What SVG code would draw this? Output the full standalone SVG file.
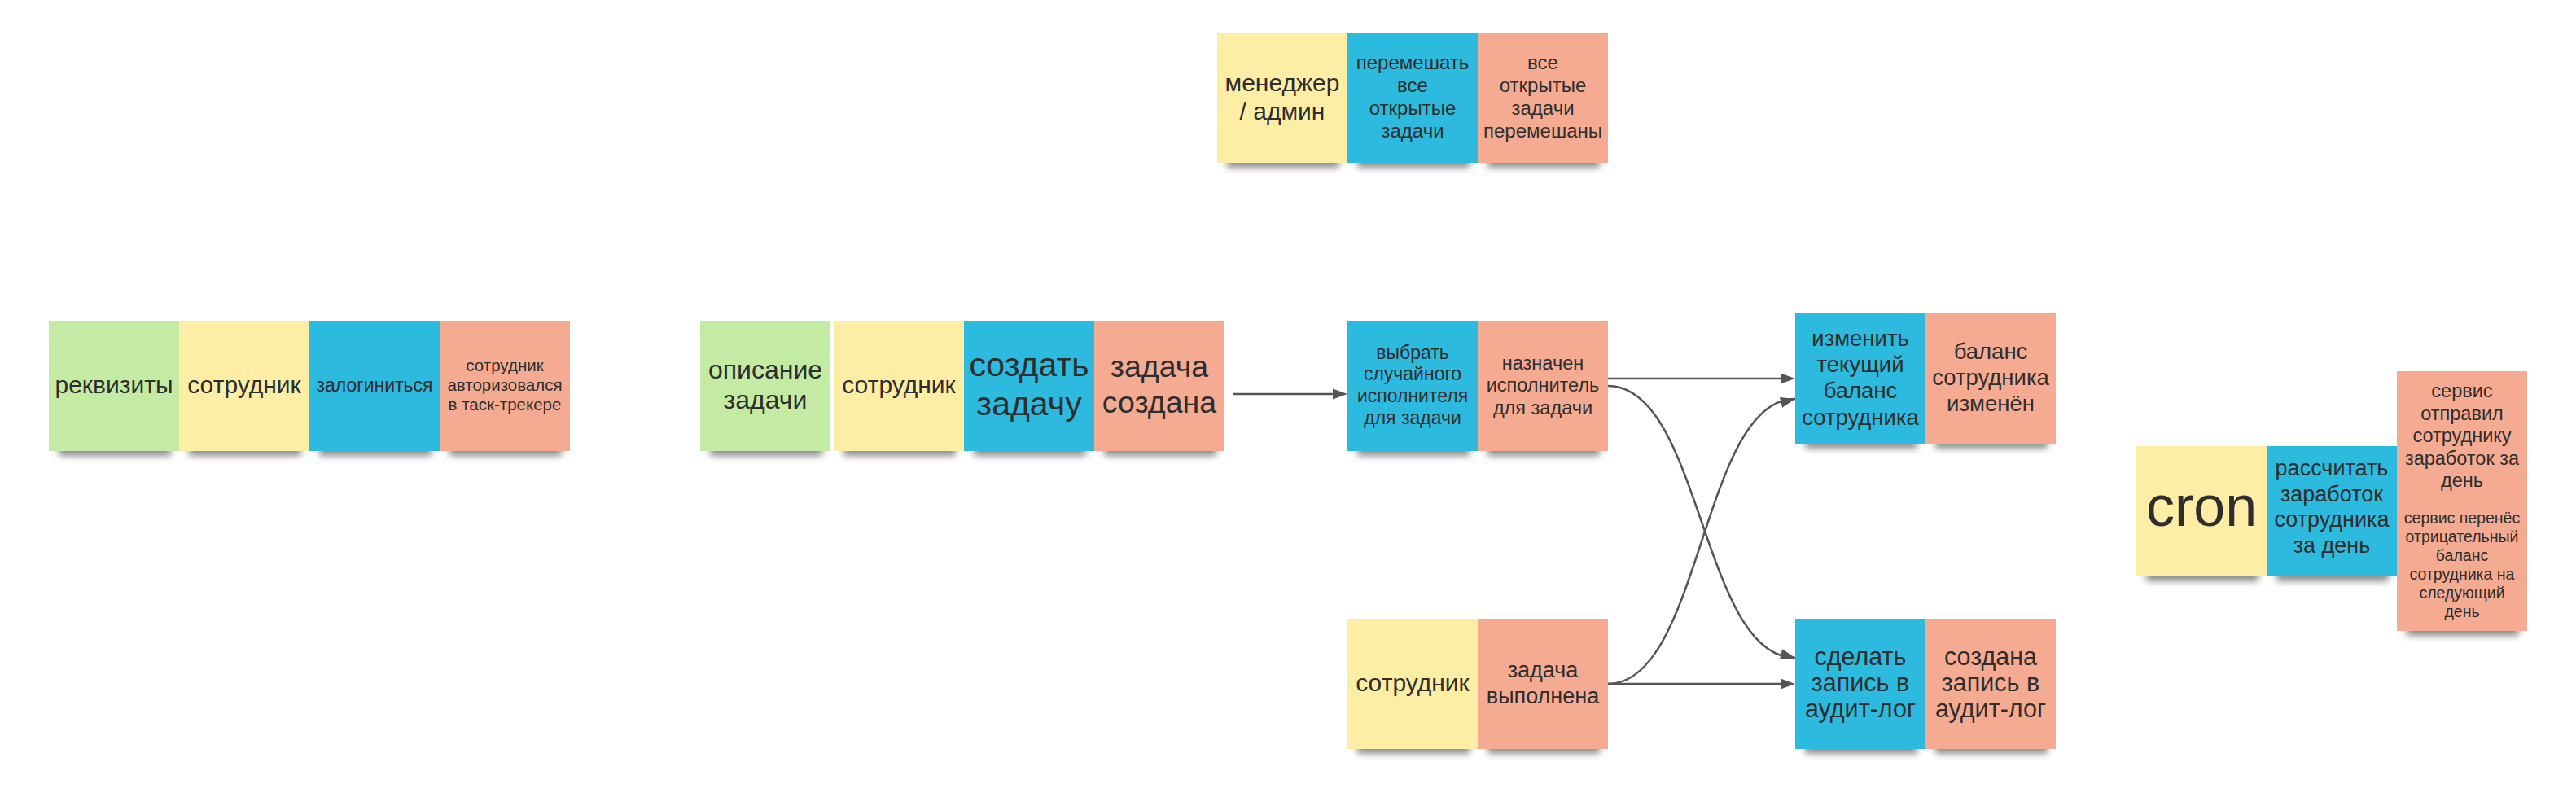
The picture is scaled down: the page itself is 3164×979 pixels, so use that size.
<svg xmlns="http://www.w3.org/2000/svg" xmlns:xlink="http://www.w3.org/1999/xlink" width="3164" height="979" viewBox="0 0 3164 979">
<defs>
<filter id="bl" x="-20%" y="-100%" width="140%" height="300%"><feGaussianBlur stdDeviation="4"/></filter>
<path id="ah" d="M0,0 L-18,-6.5 L-18,6.5 Z" fill="#555"/>
<style>
.t{font-family:"Liberation Sans",Arial,sans-serif;fill:#2e2e2e;text-anchor:middle}
.g{fill:#c4eba4}.y{fill:#fdeda5}.b{fill:#2cbade}.r{fill:#f5aa92}
.sh{fill:#000;opacity:.45;filter:url(#bl)}
.c{fill:none;stroke:#555;stroke-width:2.5}
</style>
</defs>
<rect width="3164" height="979" fill="#fff"/>

<g id="n-manager"><rect class="sh" x="1507" y="188" width="138" height="18"/><rect class="y" x="1495" y="40" width="160" height="160"/>
<text class="t" font-size="30"><tspan x="1575" y="111.5">менеджер</tspan><tspan x="1575" y="146.6">/ админ</tspan></text></g>
<g id="n-shuffle"><rect class="sh" x="1667" y="188" width="138" height="18"/><rect class="b" x="1655" y="40" width="160" height="160"/>
<text class="t" font-size="24"><tspan x="1735" y="85.1">перемешать</tspan><tspan x="1735" y="113.2">все</tspan><tspan x="1735" y="141.3">открытые</tspan><tspan x="1735" y="169.4">задачи</tspan></text></g>
<g id="n-shuffled"><rect class="sh" x="1827" y="188" width="138" height="18"/><rect class="r" x="1815" y="40" width="160" height="160"/>
<text class="t" font-size="24"><tspan x="1895" y="85.1">все</tspan><tspan x="1895" y="113.2">открытые</tspan><tspan x="1895" y="141.3">задачи</tspan><tspan x="1895" y="169.4">перемешаны</tspan></text></g>

<g id="n-req1"><rect class="sh" x="72" y="542" width="138" height="18"/><rect class="g" x="60" y="394" width="160" height="160"/>
<text class="t" font-size="30" x="140" y="483">реквизиты</text></g>
<g id="n-emp1"><rect class="sh" x="232" y="542" width="138" height="18"/><rect class="y" x="220" y="394" width="160" height="160"/>
<text class="t" font-size="30" x="300" y="483">сотрудник</text></g>
<g id="n-login"><rect class="sh" x="392" y="542" width="138" height="18"/><rect class="b" x="380" y="394" width="160" height="160"/>
<text class="t" font-size="23" x="460" y="481">залогиниться</text></g>
<g id="n-authed"><rect class="sh" x="552" y="542" width="138" height="18"/><rect class="r" x="540" y="394" width="160" height="160"/>
<text class="t" font-size="20.5"><tspan x="620" y="456.2">сотрудник</tspan><tspan x="620" y="480.2">авторизовался</tspan><tspan x="620" y="504.2">в таск-трекере</tspan></text></g>

<g id="n-desc"><rect class="sh" x="872" y="542" width="138" height="18"/><rect class="g" x="860" y="394" width="160" height="160"/>
<text class="t" font-size="32"><tspan x="940" y="464.9">описание</tspan><tspan x="940" y="502.3">задачи</tspan></text></g>
<g id="n-emp2"><rect class="sh" x="1036" y="542" width="138" height="18"/><rect class="y" x="1024" y="394" width="160" height="160"/>
<text class="t" font-size="30" x="1104" y="483">сотрудник</text></g>
<g id="n-create"><rect class="sh" x="1196" y="542" width="138" height="18"/><rect class="b" x="1184" y="394" width="160" height="160"/>
<text class="t" font-size="41"><tspan x="1264" y="462.3">создать</tspan><tspan x="1264" y="510.3">задачу</tspan></text></g>
<g id="n-created"><rect class="sh" x="1356" y="542" width="138" height="18"/><rect class="r" x="1344" y="394" width="160" height="160"/>
<text class="t" font-size="37.5"><tspan x="1424" y="463.4">задача</tspan><tspan x="1424" y="507.3">создана</tspan></text></g>

<g id="n-pick"><rect class="sh" x="1667" y="542" width="138" height="18"/><rect class="b" x="1655" y="394" width="160" height="160"/>
<text class="t" font-size="23"><tspan x="1735" y="440.5">выбрать</tspan><tspan x="1735" y="467.4">случайного</tspan><tspan x="1735" y="494.3">исполнителя</tspan><tspan x="1735" y="521.2">для задачи</tspan></text></g>
<g id="n-assigned"><rect class="sh" x="1827" y="542" width="138" height="18"/><rect class="r" x="1815" y="394" width="160" height="160"/>
<text class="t" font-size="23.5"><tspan x="1895" y="453.5">назначен</tspan><tspan x="1895" y="481">исполнитель</tspan><tspan x="1895" y="508.5">для задачи</tspan></text></g>
<g id="n-balance"><rect class="sh" x="2217" y="533" width="138" height="18"/><rect class="b" x="2205" y="385" width="160" height="160"/>
<text class="t" font-size="27.5"><tspan x="2285" y="425">изменить</tspan><tspan x="2285" y="457.2">текущий</tspan><tspan x="2285" y="489.4">баланс</tspan><tspan x="2285" y="521.6">сотрудника</tspan></text></g>
<g id="n-balanced"><rect class="sh" x="2377" y="533" width="138" height="18"/><rect class="r" x="2365" y="385" width="160" height="160"/>
<text class="t" font-size="27.5"><tspan x="2445" y="441">баланс</tspan><tspan x="2445" y="473.2">сотрудника</tspan><tspan x="2445" y="505.4">изменён</tspan></text></g>
<g id="n-emp3"><rect class="sh" x="1667" y="908" width="138" height="18"/><rect class="y" x="1655" y="760" width="160" height="160"/>
<text class="t" font-size="30" x="1735" y="849">сотрудник</text></g>
<g id="n-done"><rect class="sh" x="1827" y="908" width="138" height="18"/><rect class="r" x="1815" y="760" width="160" height="160"/>
<text class="t" font-size="27"><tspan x="1895" y="832.3">задача</tspan><tspan x="1895" y="863.9">выполнена</tspan></text></g>
<g id="n-audit"><rect class="sh" x="2217" y="908" width="138" height="18"/><rect class="b" x="2205" y="760" width="160" height="160"/>
<text class="t" font-size="30.5"><tspan x="2285" y="817.2">сделать</tspan><tspan x="2285" y="849.2">запись в</tspan><tspan x="2285" y="881.2">аудит-лог</tspan></text></g>
<g id="n-audited"><rect class="sh" x="2377" y="908" width="138" height="18"/><rect class="r" x="2365" y="760" width="160" height="160"/>
<text class="t" font-size="30.5"><tspan x="2445" y="817.2">создана</tspan><tspan x="2445" y="849.2">запись в</tspan><tspan x="2445" y="881.2">аудит-лог</tspan></text></g>

<g id="n-cron"><rect class="sh" x="2636" y="696" width="138" height="18"/><rect class="y" x="2624" y="548" width="160" height="160"/>
<text class="t" font-size="70" x="2704" y="646">cron</text></g>
<g id="n-calc"><rect class="sh" x="2796" y="696" width="138" height="18"/><rect class="b" x="2784" y="548" width="160" height="160"/>
<text class="t" font-size="27"><tspan x="2864" y="584">рассчитать</tspan><tspan x="2864" y="615.6">заработок</tspan><tspan x="2864" y="647.2">сотрудника</tspan><tspan x="2864" y="678.8">за день</tspan></text></g>
<g id="n-sent"><rect class="r" x="2944" y="456" width="160" height="160"/>
<text class="t" font-size="23.5"><tspan x="3024" y="488">сервис</tspan><tspan x="3024" y="515.5">отправил</tspan><tspan x="3024" y="543">сотруднику</tspan><tspan x="3024" y="570.5">заработок за</tspan><tspan x="3024" y="598">день</tspan></text></g>
<g id="n-moved"><rect class="sh" x="2956" y="763" width="138" height="18"/><rect class="r" x="2944" y="615" width="160" height="160"/>
<line x1="2958" y1="615.5" x2="3100" y2="615.5" stroke="#000" stroke-opacity=".06"/>
<text class="t" font-size="19.5"><tspan x="3024" y="643.4">сервис перенёс</tspan><tspan x="3024" y="666.4">отрицательный</tspan><tspan x="3024" y="689.4">баланс</tspan><tspan x="3024" y="712.4">сотрудника на</tspan><tspan x="3024" y="735.4">следующий</tspan><tspan x="3024" y="758.4">день</tspan></text></g>

<g id="connectors">
<path class="c" d="M1515,484 H1640"/><use xlink:href="#ah" href="#ah" transform="translate(1655,484)"/>
<path class="c" d="M1975,465 H2190"/><use xlink:href="#ah" href="#ah" transform="translate(2205,465)"/>
<path class="c" d="M1975,474 C2090,474 2090,808 2205,808"/><use xlink:href="#ah" href="#ah" transform="translate(2205,808) rotate(14)"/>
<path class="c" d="M1975,840 H2190"/><use xlink:href="#ah" href="#ah" transform="translate(2205,840)"/>
<path class="c" d="M1975,840 C2090,840 2090,490 2205,490"/><use xlink:href="#ah" href="#ah" transform="translate(2205,490) rotate(-14)"/>
</g>
</svg>
